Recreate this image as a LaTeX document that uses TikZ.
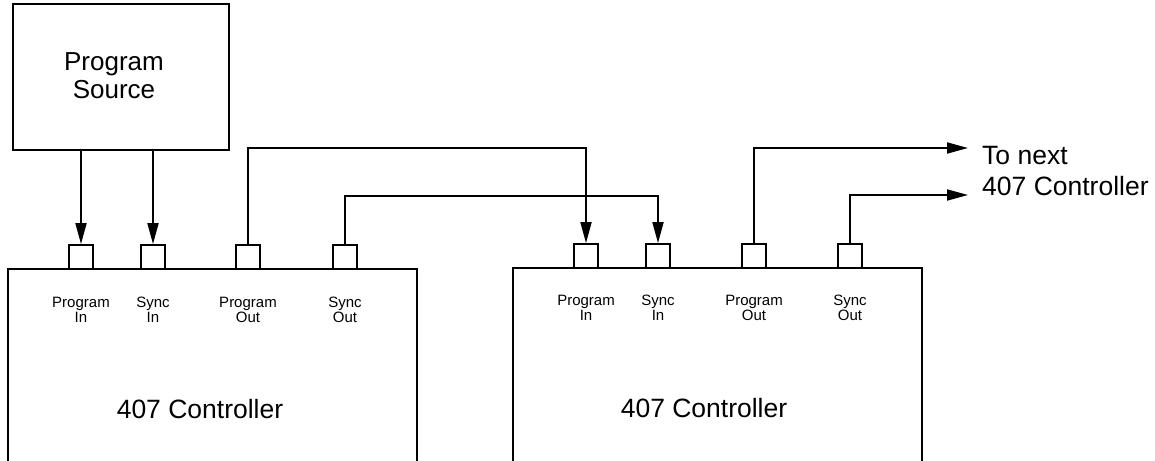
\documentclass[tikz,border=0pt]{standalone}
\usepackage{fontspec}
\setmainfont{Liberation Sans}
\usetikzlibrary{arrows.meta}
\begin{document}
\begin{tikzpicture}[x=1pt,y=-1pt,
  arr/.style={line width=1.8pt,-{Triangle[length=21pt,width=11pt]}},
  box/.style={draw,line width=1.8pt,inner sep=0pt},
  port/.style={draw,line width=1.8pt,minimum width=24pt,minimum height=24pt,inner sep=0pt,fill=white},
  lbl/.style={font=\fontsize{15}{15}\selectfont,align=center,inner sep=0pt},
  big/.style={font=\fontsize{26.5}{31}\selectfont,align=center,inner sep=0pt}]
\useasboundingbox (0,0) rectangle (1155,460);

% boxes
\node[box,minimum width=216pt,minimum height=146pt] (src) at (121,77) {};
\node[big,font=\fontsize{26}{28}\selectfont] (srct) at (114,76) {Program\\Source};
\node[box,minimum width=409pt,minimum height=194pt] (ca) at (212.5,366) {};
\node[box,minimum width=409pt,minimum height=195pt] (cb) at (717.5,365.5) {};
\node[big] (cat) at (200,409) {407 Controller};
\node[big] (cbt) at (704,408) {407 Controller};

% ports
\node[port] (pa1) at (81,257) {};
\node[port] (pa2) at (153,257) {};
\node[port] (pa3) at (248,257) {};
\node[port] (pa4) at (345,257) {};
\node[port] (pb1) at (586,256) {};
\node[port] (pb2) at (658,256) {};
\node[port] (pb3) at (754,256) {};
\node[port] (pb4) at (850,256) {};

% port labels
\node[lbl] (la1) at (81,309.5) {Program\\In};
\node[lbl] (la2) at (153,309.5) {Sync\\In};
\node[lbl] (la3) at (248,309.5) {Program\\Out};
\node[lbl] (la4) at (345,309.5) {Sync\\Out};
\node[lbl] (lb1) at (586,307.5) {Program\\In};
\node[lbl] (lb2) at (658,307.5) {Sync\\In};
\node[lbl] (lb3) at (754,307.5) {Program\\Out};
\node[lbl] (lb4) at (850,307.5) {Sync\\Out};

% routing heights and free ends
\coordinate (h1) at (0,148);
\coordinate (h2) at (0,196);
\coordinate (o1) at (968,148);
\coordinate (o2) at (968,195);

% connectors
\draw[arr] (src.south -| pa1) -- (pa1.north);
\draw[arr] (src.south -| pa2) -- (pa2.north);
\draw[arr] (pa3.north) -- (pa3.north |- h1) -- (pb1.north |- h1) -- (pb1.north);
\draw[arr] (pa4.north) -- (pa4.north |- h2) -- (pb2.north |- h2) -- (pb2.north);
\draw[arr] (pb3.north) |- (o1);
\draw[arr] (pb4.north) |- (o2);

\node[big,anchor=west,align=left] (nxt) at (982,171) {To next\\407 Controller};
\end{tikzpicture}
\end{document}
